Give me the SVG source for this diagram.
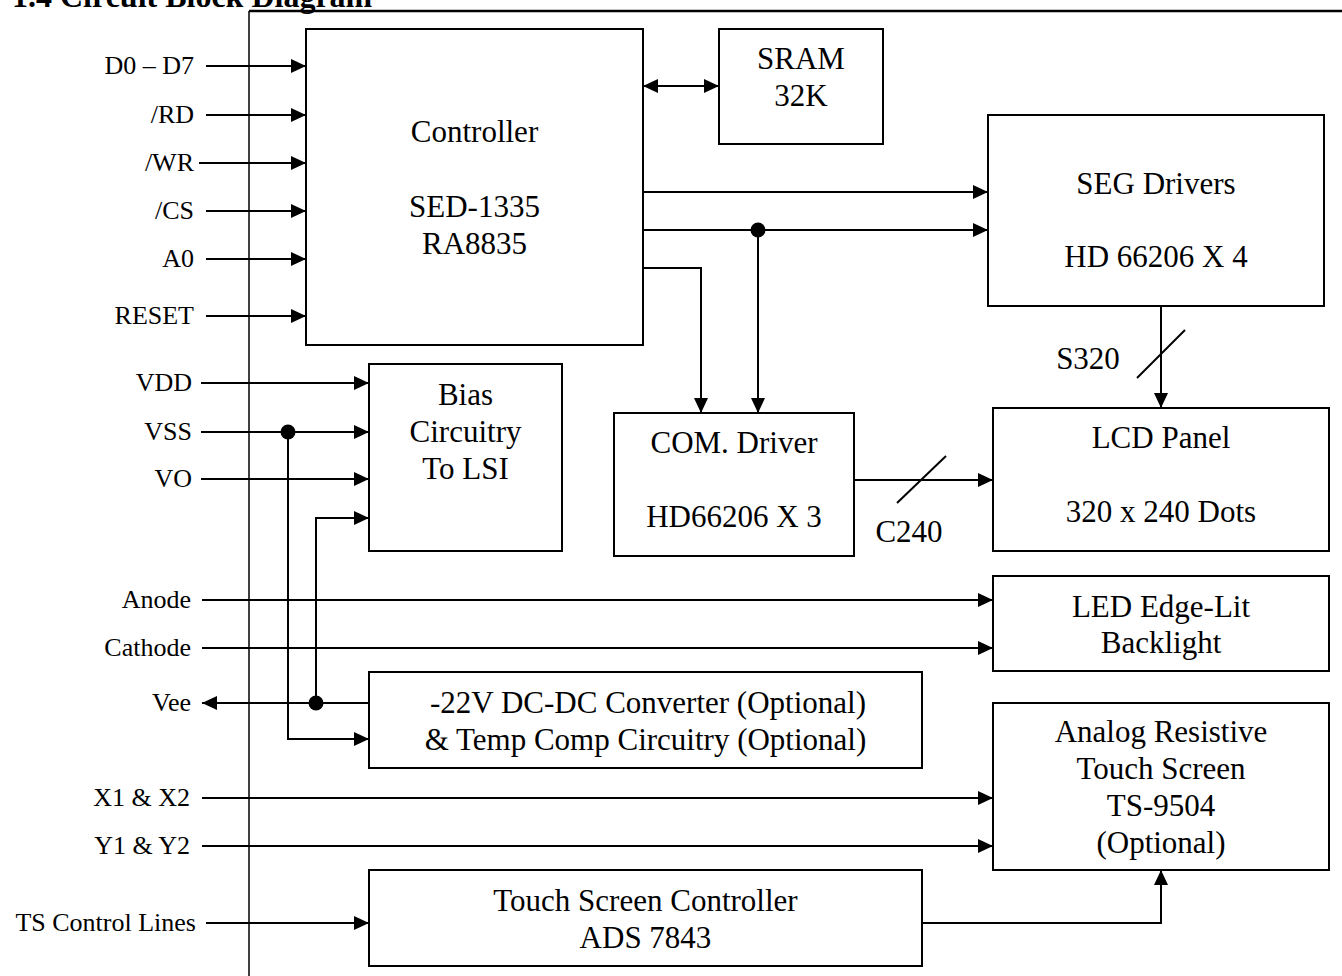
<svg xmlns="http://www.w3.org/2000/svg" width="1342" height="976" viewBox="0 0 1342 976">
<defs>
<marker id="ah" markerUnits="userSpaceOnUse" markerWidth="16" markerHeight="14" refX="15" refY="7" orient="auto-start-reverse">
<path d="M0,0 L15,7 L0,14 z" fill="#000"/>
</marker>
<style>
.box{fill:#fff;stroke:#000;stroke-width:2}
.t{font-family:"Liberation Serif","Times New Roman",serif;font-size:31px;fill:#000;text-anchor:middle}
.l{font-family:"Liberation Serif","Times New Roman",serif;font-size:26px;fill:#000;text-anchor:end}
.w{fill:none;stroke:#000;stroke-width:2}
.a{fill:none;stroke:#000;stroke-width:2;marker-end:url(#ah)}
.dot{fill:#000}
</style>
</defs>
<rect width="1342" height="976" fill="#fff"/>
<text x="12" y="7" font-family="Liberation Serif, Times New Roman, serif" font-size="32" font-weight="bold">1.4 Circuit Block Diagram</text>
<g id="frame">
<line x1="249" y1="11" x2="1342" y2="11" stroke="#000" stroke-width="2.5"/>
<line x1="249" y1="11" x2="249" y2="976" stroke="#000" stroke-width="1.5"/>
</g>
<g id="connectors">
<path class="a" d="M206,66 H306"/>
<path class="a" d="M206,115 H306"/>
<path class="a" d="M199,163 H306"/>
<path class="a" d="M206,211 H306"/>
<path class="a" d="M206,259 H306"/>
<path class="a" d="M206,316 H306"/>
<path class="w" d="M643,86 H719" marker-start="url(#ah)" marker-end="url(#ah)"/>
<path class="a" d="M643,192 H988"/>
<path class="a" d="M643,230 H988"/>
<path class="a" d="M758,230 V413"/>
<path class="a" d="M643,268 H701 V413"/>
<path class="a" d="M1161,306 V408"/>
<line class="w" x1="1137" y1="378" x2="1185" y2="330"/>
<path class="a" d="M854,480 H993"/>
<line class="w" x1="897" y1="503" x2="946" y2="456"/>
<path class="a" d="M201,383 H369"/>
<path class="a" d="M201,432 H369"/>
<path class="a" d="M201,479 H369"/>
<path class="a" d="M316,703 V518 H369"/>
<path class="a" d="M288,432 V739 H369"/>
<path class="a" d="M369,703 H202"/>
<path class="a" d="M202,600 H993"/>
<path class="a" d="M202,648 H993"/>
<path class="a" d="M202,798 H993"/>
<path class="a" d="M202,846 H993"/>
<path class="a" d="M206,923 H369"/>
<path class="a" d="M922,923 H1161 V870"/>
<circle class="dot" cx="758" cy="230" r="7.5"/>
<circle class="dot" cx="288" cy="432" r="7.5"/>
<circle class="dot" cx="316" cy="703" r="7.5"/>
</g>
<g id="labels">
<text class="l" x="194" y="74">D0 – D7</text>
<text class="l" x="194" y="123">/RD</text>
<text class="l" x="194" y="171">/WR</text>
<text class="l" x="194" y="219">/CS</text>
<text class="l" x="194" y="267">A0</text>
<text class="l" x="194" y="324">RESET</text>
<text class="l" x="192" y="391">VDD</text>
<text class="l" x="192" y="440">VSS</text>
<text class="l" x="192" y="487">VO</text>
<text class="l" x="191" y="608">Anode</text>
<text class="l" x="191" y="656">Cathode</text>
<text class="l" x="191" y="711">Vee</text>
<text class="l" x="190" y="806">X1 &amp; X2</text>
<text class="l" x="190" y="854">Y1 &amp; Y2</text>
<text class="l" x="196" y="931">TS Control Lines</text>
<text class="t" x="1088" y="369">S320</text>
<text class="t" x="909" y="542">C240</text>
</g>
<g id="controller">
<rect class="box" x="306" y="29" width="337" height="316"/>
<text class="t" x="474.5" y="142">Controller</text>
<text class="t" x="474.5" y="217">SED-1335</text>
<text class="t" x="474.5" y="254">RA8835</text>
</g>
<g id="sram">
<rect class="box" x="719" y="29" width="164" height="115"/>
<text class="t" x="801" y="69">SRAM</text>
<text class="t" x="801" y="106">32K</text>
</g>
<g id="seg">
<rect class="box" x="988" y="115" width="336" height="191"/>
<text class="t" x="1156" y="194">SEG Drivers</text>
<text class="t" x="1156" y="267">HD 66206 X 4</text>
</g>
<g id="com">
<rect class="box" x="614" y="413" width="240" height="143"/>
<text class="t" x="734" y="453">COM. Driver</text>
<text class="t" x="734" y="527">HD66206 X 3</text>
</g>
<g id="lcd">
<rect class="box" x="993" y="408" width="336" height="143"/>
<text class="t" x="1161" y="448">LCD Panel</text>
<text class="t" x="1161" y="522">320 x 240 Dots</text>
</g>
<g id="bias">
<rect class="box" x="369" y="364" width="193" height="187"/>
<text class="t" x="465.5" y="405">Bias</text>
<text class="t" x="465.5" y="442">Circuitry</text>
<text class="t" x="465.5" y="479">To LSI</text>
</g>
<g id="led">
<rect class="box" x="993" y="576" width="336" height="95"/>
<text class="t" x="1161" y="617">LED Edge-Lit</text>
<text class="t" x="1161" y="653">Backlight</text>
</g>
<g id="dcdc">
<rect class="box" x="369" y="672" width="553" height="96"/>
<text class="t" x="648" y="713">-22V DC-DC Converter (Optional)</text>
<text class="t" x="645.5" y="750">&amp; Temp Comp Circuitry (Optional)</text>
</g>
<g id="touch">
<rect class="box" x="993" y="703" width="336" height="167"/>
<text class="t" x="1161" y="742">Analog Resistive</text>
<text class="t" x="1161" y="779">Touch Screen</text>
<text class="t" x="1161" y="816">TS-9504</text>
<text class="t" x="1161" y="853">(Optional)</text>
</g>
<g id="tsc">
<rect class="box" x="369" y="870" width="553" height="96"/>
<text class="t" x="645.5" y="911">Touch Screen Controller</text>
<text class="t" x="645.5" y="948">ADS 7843</text>
</g>
</svg>
